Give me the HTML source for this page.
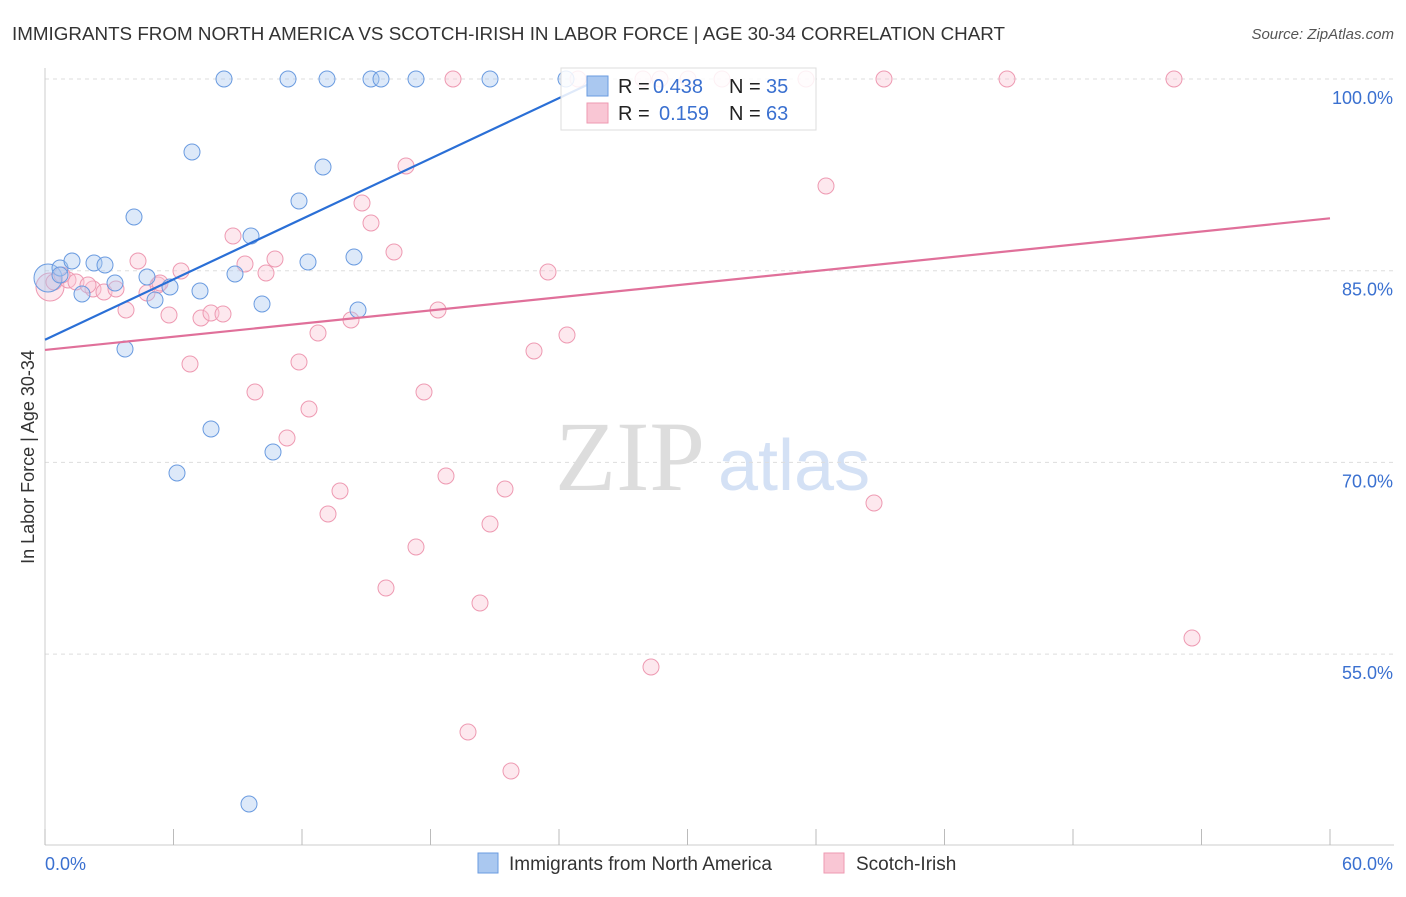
<!DOCTYPE html>
<html><head><meta charset="utf-8"><style>
body{margin:0;background:#fff;font-family:"Liberation Sans",sans-serif;}
svg text{font-family:"Liberation Sans",sans-serif;}
</style></head><body>
<svg id="c" width="1406" height="892" xmlns="http://www.w3.org/2000/svg">
<text x="12" y="40" font-size="18" fill="#333" textLength="993" lengthAdjust="spacingAndGlyphs">IMMIGRANTS FROM NORTH AMERICA VS SCOTCH-IRISH IN LABOR FORCE | AGE 30-34 CORRELATION CHART</text>
<text x="1394" y="39" font-size="15" fill="#555" font-style="italic" text-anchor="end">Source: ZipAtlas.com</text>
<text x="0" y="0" transform="translate(34,457) rotate(-90)" font-size="18" fill="#333" text-anchor="middle">In Labor Force | Age 30-34</text>
<text x="555" y="490" font-size="100" fill="#ddd" style="font-family:'Liberation Serif',serif">ZIP</text>
<text x="718" y="490" font-size="72" fill="#d4e1f5">atlas</text>
<g id="grid"></g><g id="marks"></g>
<g>
<rect x="561" y="68" width="255" height="62" fill="#fff" fill-opacity="0.85" stroke="#ddd"/>
<rect x="587" y="76" width="21" height="20" fill="#aac8f0" stroke="#6a9be0"/>
<text x="618" y="93" font-size="20" fill="#222">R =</text>
<text x="653" y="93" font-size="20" fill="#3a70d0">0.438</text>
<text x="729" y="93" font-size="20" fill="#222">N =</text>
<text x="766" y="93" font-size="20" fill="#3a70d0">35</text>
<rect x="587" y="103" width="21" height="20" fill="#f9c6d4" stroke="#ee9ab2"/>
<text x="618" y="120" font-size="20" fill="#222">R =</text>
<text x="659" y="120" font-size="20" fill="#3a70d0">0.159</text>
<text x="729" y="120" font-size="20" fill="#222">N =</text>
<text x="766" y="120" font-size="20" fill="#3a70d0">63</text>
</g>
<g>
<rect x="478" y="853" width="20" height="20" fill="#aac8f0" stroke="#6a9be0"/>
<text x="509" y="870" font-size="19" fill="#333">Immigrants from North America</text>
<rect x="824" y="853" width="20" height="20" fill="#f9c6d4" stroke="#ee9ab2"/>
<text x="856" y="870" font-size="19" fill="#333">Scotch-Irish</text>
</g>
</svg>
<script>
const yTicks=[100,85,70,55];
const xTickLabels=["0.0%","60.0%"];
const bluePx=[[48,278],[60,268],[72,261],[82,294],[94,263],[105,265],[115,283],[125,349],[134,217],[147,277],[155,300],[170,287],[192,152],[200,291],[211,429],[177,473],[224,79],[235,274],[251,236],[262,304],[273,452],[288,79],[299,201],[308,262],[323,167],[327,79],[354,257],[358,310],[371,79],[381,79],[416,79],[490,79],[566,79],[249,804],[60,275]];
const pinkPx=[[50,287],[68,280],[76,282],[93,289],[104,292],[116,289],[126,310],[138,261],[147,293],[158,285],[169,315],[181,271],[190,364],[201,318],[211,313],[223,314],[233,236],[245,264],[255,392],[266,273],[275,259],[287,438],[299,362],[309,409],[318,333],[328,514],[340,491],[351,320],[362,203],[371,223],[386,588],[394,252],[406,166],[416,547],[424,392],[438,310],[446,476],[453,79],[468,732],[480,603],[490,524],[505,489],[511,771],[534,351],[548,272],[567,335],[578,79],[643,79],[651,667],[660,79],[688,79],[722,79],[806,79],[826,186],[874,503],[884,79],[1007,79],[1174,79],[1192,638],[54,282],[88,285],[160,283],[62,275]];
const toData=p=>[(p[0]-45)/1285*60,100-(p[1]-79)/12.78];
const blueData=bluePx.map(toData), pinkData=pinkPx.map(toData);
const blueLine=[79.6,100,25.9], pinkLine=[78.8,89.1,60];
const X=v=>45+v/60*1285, Y=v=>79+(100-v)*12.78;
const NS="http://www.w3.org/2000/svg";
const g=document.getElementById('grid'), m=document.getElementById('marks');
function mk(par,tag,a){const e=document.createElementNS(NS,tag);for(const k in a)e.setAttribute(k,a[k]);par.appendChild(e);return e;}
yTicks.forEach(t=>{
 const l=mk(g,'line',{x1:45,x2:1394,y1:Y(t),y2:Y(t),stroke:'#ddd','stroke-dasharray':'4,4'});
 
 
 const tx=mk(g,'text',{x:1393,y:Y(t)+25,'font-size':18,fill:'#3a70d0','text-anchor':'end'});tx.textContent=t.toFixed(1)+'%';
 
 
});
mk(g,'line',{x1:45,x2:1394,y1:845,y2:845,stroke:'#ccc'});
mk(g,'line',{x1:45,x2:45,y1:68,y2:845,stroke:'#ccc'});
for(let i=0;i<=10;i++){mk(g,'line',{x1:X(i*6),x2:X(i*6),y1:829,y2:845,stroke:'#bbb'});}
[[0,'start',45],[1,'end',1393]].forEach(([i,a,x])=>{const t=mk(g,'text',{x:x,y:870,'font-size':18,fill:'#3a70d0','text-anchor':a});t.textContent=xTickLabels[i];
 
 });
function pts(d,fill,stroke,name){d.forEach((p,i)=>{const c=mk(m,'circle',{cx:X(p[0]),cy:Y(p[1]),r:i==0?14:8,fill:fill,'fill-opacity':0.4,stroke:stroke,'stroke-width':1});
 
 });}
pts(pinkData,'#f9c6d4','#ee9ab2','scotch-irish-point');
pts(blueData,'#aac8f0','#6a9be0','north-america-point');
const bl=mk(m,'line',{x1:X(0),y1:Y(blueLine[0]),x2:X(blueLine[2]),y2:Y(blueLine[1]),stroke:'#2a6fd6','stroke-width':2.2});


const pl=mk(m,'line',{x1:X(0),y1:Y(pinkLine[0]),x2:X(pinkLine[2]),y2:Y(pinkLine[1]),stroke:'#e0709a','stroke-width':2.2});


</script>
</body></html>
